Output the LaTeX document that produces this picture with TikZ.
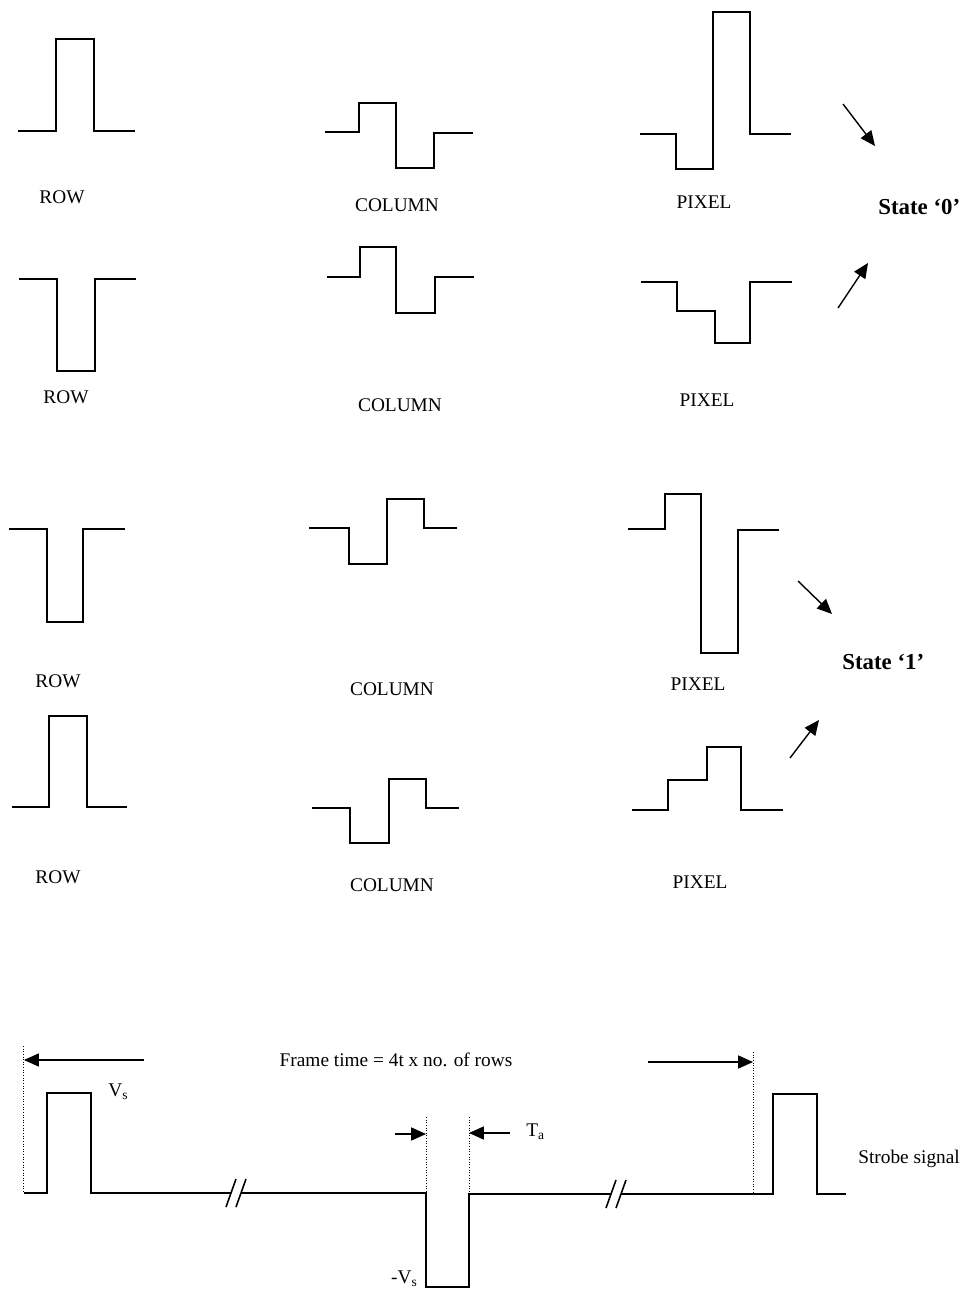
\documentclass[tikz,border=0pt]{standalone}
\usepackage{fontspec}
\setmainfont{Liberation Serif}
\usetikzlibrary{arrows.meta}
\tikzset{
  sig/.style={line width=1.2pt, line join=miter},
  lbl/.style={font=\fontsize{11}{13}\selectfont, inner sep=0pt},
  state/.style={font=\fontsize{13}{15}\selectfont\bfseries, anchor=west, inner sep=0pt},
  pointer/.style={line width=0.8pt, -{Triangle[length=8.5pt,width=7.5pt]}},
  span/.style={line width=0.6pt, -{Triangle[length=8.5pt,width=7.5pt]}},
  guide/.style={line width=0.5pt, densely dotted},
}
\def\brk(#1,#2){\draw[line width=0.9pt] (#1-10,#2+14) -- (#1,#2-14); \draw[line width=0.9pt] (#1,#2+14) -- (#1+10,#2-14);}

\begin{document}
\begin{tikzpicture}[x=0.02cm,y=-0.02cm]
		\useasboundingbox (0,0) rectangle (960,1291);
		%%%%% STATE 0 %%%%%
		\draw[sig] (18,131) -- (56,131) -- (56,39) -- (94,39) -- (94,131) -- (135,131);
		\node[lbl] (row1) at (62,197) {ROW};
		\draw[sig] (325,132) -- (359,132) -- (359,103) -- (396,103) -- (396,168) -- (434,168) -- (434,133) -- (473,133);
		\node[lbl] (col1) at (397,205) {COLUMN};
		\draw[sig] (640,134) -- (676,134) -- (676,169) -- (713,169) -- (713,12) -- (750,12) -- (750,134) -- (791,134);
		\node[lbl] (pix1) at (704,202) {PIXEL};
		
		\draw[sig] (19,279) -- (57,279) -- (57,371) -- (95,371) -- (95,279) -- (136,279);
		\node[lbl] (row2) at (66,397) {ROW};
		\draw[sig] (327,277) -- (360,277) -- (360,247) -- (396,247) -- (396,313) -- (435,313) -- (435,277) -- (474,277);
		\node[lbl] (col2) at (400,405) {COLUMN};
		\draw[sig] (641,282) -- (677,282) -- (677,311) -- (715,311) -- (715,343) -- (750,343) -- (750,282) -- (792,282);
		\node[lbl] (pix2) at (707,400) {PIXEL};
		
		\node[state] (st0) at (878,207) {State ‘0’};
		\coordinate (s0a) at (843,104); \coordinate (s0b) at (875,146);
		\coordinate (s0c) at (838,308); \coordinate (s0d) at (868,263);
		\draw[pointer] (s0a) -- (s0b);
		\draw[pointer] (s0c) -- (s0d);
		
		%%%%% STATE 1 %%%%%
		\draw[sig] (9,529) -- (47,529) -- (47,622) -- (83,622) -- (83,529) -- (125,529);
		\node[lbl] (row3) at (58,681) {ROW};
		\draw[sig] (309,528) -- (349,528) -- (349,564) -- (387,564) -- (387,499) -- (424,499) -- (424,528) -- (457,528);
		\node[lbl] (col3) at (392,689) {COLUMN};
		\draw[sig] (628,529) -- (665,529) -- (665,494) -- (701,494) -- (701,653) -- (738,653) -- (738,530) -- (779,530);
		\node[lbl] (pix3) at (698,684) {PIXEL};
		
		\draw[sig] (12,807) -- (49,807) -- (49,716) -- (87,716) -- (87,807) -- (127,807);
		\node[lbl] (row4) at (58,877) {ROW};
		\draw[sig] (312,808) -- (350,808) -- (350,843) -- (389,843) -- (389,779) -- (426,779) -- (426,808) -- (459,808);
		\node[lbl] (col4) at (392,885) {COLUMN};
		\draw[sig] (632,810) -- (668,810) -- (668,780) -- (707,780) -- (707,747) -- (741,747) -- (741,810) -- (783,810);
		\node[lbl] (pix4) at (700,882) {PIXEL};
		
		\node[state] (st1) at (842,662) {State ‘1’};
		\coordinate (s1a) at (798,581); \coordinate (s1b) at (832,614);
		\coordinate (s1c) at (790,758); \coordinate (s1d) at (819,720);
		\draw[pointer] (s1a) -- (s1b);
		\draw[pointer] (s1c) -- (s1d);
		
		%%%%% STROBE %%%%%
		\draw[guide] (23,1046) -- (23,1193);
		\draw[guide] (426,1117) -- (426,1193);
		\draw[guide] (469,1117) -- (469,1193);
		\draw[guide] (753,1052) -- (753,1192);
		
		\draw[sig] (24,1193) -- (47,1193) -- (47,1093) -- (91,1093) -- (91,1193) -- (231,1193);
		\draw[sig] (241,1193) -- (426,1193) -- (426,1287) -- (469,1287) -- (469,1194) -- (611,1194);
		\draw[sig] (621,1194) -- (773,1194) -- (773,1094) -- (817,1094) -- (817,1194) -- (846,1194);
		\brk(236,1193)
		\brk(616,1194)
		
		\node[lbl] (frame) at (396,1060) {Frame time = 4t x no. of rows};
		\coordinate (fl0) at (144,1060); \coordinate (fl1) at (24,1060);
		\coordinate (fr0) at (648,1062); \coordinate (fr1) at (753,1062);
		\draw[span] (fl0) -- (fl1);
		\draw[span] (fr0) -- (fr1);
		
		\coordinate (ta0) at (395,1134); \coordinate (ta1) at (426,1134);
		\coordinate (tb0) at (510,1133); \coordinate (tb1) at (469,1133);
		\draw[span] (ta0) -- (ta1);
		\draw[span] (tb0) -- (tb1);
		\node[lbl, anchor=west] (ta) at (526,1132) {T\textsubscript{a}};
		
		\node[lbl, anchor=west] (vs) at (108,1092) {V\textsubscript{s}};
		\node[lbl, anchor=east] (mvs) at (418,1279) {-V\textsubscript{s}};
		\node[lbl, anchor=west] (strobe) at (858,1159) {Strobe signal};
	\end{tikzpicture}
\end{document}
